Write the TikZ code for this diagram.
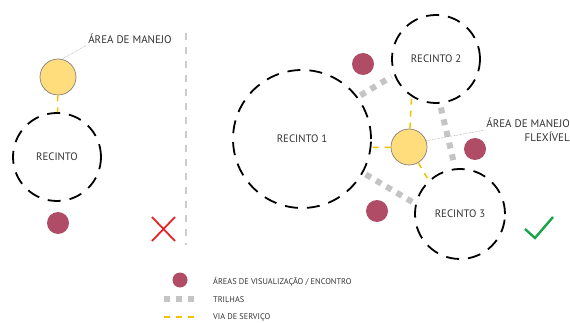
\documentclass[tikz,border=0pt]{standalone}
\usepackage{fontspec}
\setmainfont{PT Sans}
\usetikzlibrary{positioning}
\definecolor{manejo}{HTML}{FFDC7C}
\definecolor{vinho}{HTML}{B14C66}
\definecolor{amarelo}{HTML}{F5C200}
\definecolor{trilhacor}{HTML}{C4C4C4}
\definecolor{certo}{HTML}{1BA54B}
\definecolor{errado}{HTML}{E42229}

\begin{document}
\begin{tikzpicture}[x=1pt, y=-1pt,
  recinto/.style={circle, draw, line width=1.8pt, dash pattern=on 13pt off 9pt, font=\fontsize{10.8}{12}\selectfont, text=black!80, inner sep=0pt},
  manejo/.style={circle, draw=black!50, fill=manejo, line width=0.7pt, minimum size=36pt, inner sep=0pt},
  ponto/.style={circle, fill=vinho, minimum size=22pt, inner sep=0pt},
  trilha/.style={trilhacor, line width=6pt, dash pattern=on 6pt off 6pt},
  servico/.style={amarelo, line width=1.5pt, dash pattern=on 6pt off 6pt},
  guia/.style={black!45, densely dotted, line width=0.5pt},
  rotulo/.style={font=\fontsize{11}{14}\selectfont, text=black!80, inner sep=1pt},
  legenda/.style={font=\fontsize{8.3}{9}\selectfont, anchor=west, text=black!80, inner sep=0pt}]
  \useasboundingbox (0,0) rectangle (570,323);
  % recinto isolado
  \node[recinto, minimum size=88pt] (r0) at (57,157) {RECINTO};
  \node[manejo] (m0) at (58,77) {};
  \node[ponto] (p0) at (58,223) {};
  \node[rotulo] (l0) at (130,39) {ÁREA DE MANEJO};
  \draw[servico] (m0) -- (r0);
  \draw[guia] (m0.78) -- (l0.south west);
  \draw[errado, line width=1.8pt] (152,217) -- (175,241) (175,217) -- (152,241);
  \draw[black!20, line width=1.2pt, dash pattern=on 7pt off 7pt] (186,33) -- (186,245);
  % recintos conectados
  \node[recinto, minimum size=138pt] (r1) at (302,139) {RECINTO 1};
  \node[recinto, minimum size=88pt] (r2) at (436,59) {RECINTO 2};
  \node[recinto, minimum size=90pt] (r3) at (460,214) {RECINTO 3};
  \node[manejo] (m1) at (409,147) {};
  \foreach \n/\x/\y in {p1/363/64, p2/475/149, p3/377/211}
    \node[ponto] (\n) at (\x,\y) {};
  \node[rotulo, align=right, anchor=east] (l1) at (571,130) {ÁREA DE MANEJO\\FLEXÍVEL};
  \draw[trilha, shorten <=3pt, shorten >=3pt] (r1.37) -- (r2.201);
  \draw[trilha, shorten <=4pt, shorten >=5pt] (r2.275) -- (r3.96);
  \draw[trilha, shorten <=3pt, shorten >=3pt] (r1.-29) -- (r3.167);
  \draw[servico] (m1) -- (r2.237);
  \draw[servico] (m1) -- (r1.-7);
  \draw[servico] (m1) -- (r3.133);
  \draw[guia] (m1.20) -- (l1.west);
  \draw[certo, line width=2.4pt] (525,229) -- (535,238) -- (553,217);
  % legenda
  \node[ponto, minimum size=15pt] (k1) at (180,280) {};
  \node[legenda] (t1) at (213,282) {ÁREAS DE VISUALIZAÇÃO / ENCONTRO};
  \coordinate (k2a) at (164,299);
  \coordinate (k2b) at (198,299);
  \draw[trilha] (k2a) -- (k2b);
  \node[legenda] (t2) at (213,300) {TRILHAS};
  \coordinate (k3a) at (164,317);
  \coordinate (k3b) at (198,317);
  \draw[servico] (k3a) -- (k3b);
  \node[legenda] (t3) at (213,317) {VIA DE SERVIÇO};
\end{tikzpicture}
\end{document}
